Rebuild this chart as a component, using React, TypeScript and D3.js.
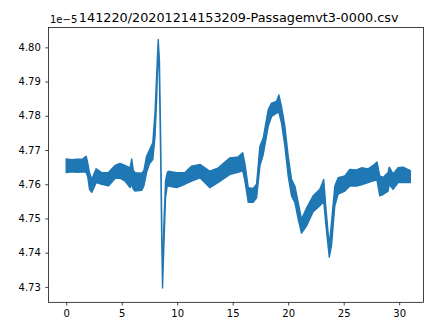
import { useEffect, useRef } from "react";
import * as d3 from "d3";

// signal envelope (values in units of 1e-5)
const times = [
  0.0, 0.5, 1.0, 1.5, 1.8, 1.95, 2.1, 2.3, 2.5, 2.7, 3.2, 3.8, 4.4, 4.85, 5.3, 5.75, 5.9, 6.05, 6.2, 6.8,
  7.0, 7.24, 7.5, 7.8, 8.0, 8.15, 8.29, 8.4, 8.5, 8.6, 8.68, 8.8, 8.95, 9.1, 9.2, 9.95, 10.7, 11.3, 12.05, 12.95,
  13.7, 14.75, 15.5, 15.9, 16.1, 16.4, 16.85, 17.15, 17.45, 17.75, 18.2, 18.5, 18.95, 19.16, 19.4, 19.7, 20.0, 20.3, 20.6, 20.9,
  21.2, 21.65, 22.25, 22.85, 23.2, 23.4, 23.7, 23.9, 24.2, 24.5, 25.1, 25.55, 26.15, 26.6, 27.2, 27.65, 28.0, 28.25, 28.55, 29.0,
  29.1, 29.45, 29.9, 30.35, 31.0,
];
const lower = [
  4.7634, 4.7636, 4.7635, 4.7636, 4.7635, 4.762, 4.7585, 4.7576, 4.759, 4.7605, 4.76, 4.7595, 4.7617, 4.7618, 4.7609, 4.759, 4.76, 4.7585, 4.758, 4.7582,
  4.7595, 4.7634, 4.766, 4.7672, 4.7739, 4.785, 4.8015, 4.79, 4.77, 4.745, 4.7297, 4.742, 4.756, 4.7595, 4.7595, 4.759, 4.76, 4.7609, 4.7619, 4.759,
  4.7605, 4.7629, 4.7635, 4.764, 4.761, 4.7547, 4.7547, 4.756, 4.7653, 4.7687, 4.7769, 4.7798, 4.7808, 4.781, 4.7779, 4.7711, 4.7624, 4.7566, 4.7547, 4.7498,
  4.7457, 4.7478, 4.752, 4.7537, 4.755, 4.748, 4.7387, 4.742, 4.7537, 4.7571, 4.758, 4.7595, 4.7595, 4.7598, 4.7605, 4.761, 4.7612, 4.7566, 4.757, 4.758,
  4.76, 4.7585, 4.7605, 4.7605, 4.7605,
];
const upper = [
  4.7674, 4.7672, 4.7673, 4.7674, 4.7682, 4.766, 4.7634, 4.7614, 4.763, 4.7645, 4.7634, 4.7634, 4.7655, 4.7661, 4.7655, 4.7648, 4.7674, 4.764, 4.7634, 4.7632,
  4.764, 4.7682, 4.77, 4.7721, 4.7809, 4.792, 4.8023, 4.796, 4.776, 4.751, 4.731, 4.748, 4.761, 4.7634, 4.7638, 4.7634, 4.7634, 4.7653, 4.7658, 4.7638,
  4.7648, 4.7677, 4.768, 4.7692, 4.766, 4.759, 4.7588, 4.76, 4.7711, 4.7735, 4.7818, 4.7837, 4.7842, 4.7861, 4.7827, 4.7769, 4.7682, 4.7614, 4.7595, 4.7547,
  4.7498, 4.753, 4.7566, 4.7585, 4.7614, 4.753, 4.742, 4.7488, 4.7595, 4.7619, 4.7624, 4.7643, 4.7642, 4.7648, 4.7645, 4.7655, 4.7665, 4.7624, 4.762, 4.7634,
  4.765, 4.763, 4.7648, 4.765, 4.764,
];

const xTicks = [0, 5, 10, 15, 20, 25, 30];
const yTicks = [4.73, 4.74, 4.75, 4.76, 4.77, 4.78, 4.79, 4.8];
const title = "141220/20201214153209-Passagemvt3-0000.csv";

export default function App() {
  const svgRef = useRef<SVGSVGElement>(null);

  useEffect(() => {
    const W = 424;
    const H = 320;
    const m = { top: 27.5, right: 0.5, bottom: 17.7, left: 48.5 };
    const w = W - m.left - m.right;
    const h = H - m.top - m.bottom;

    const root = d3.select(svgRef.current);
    root.selectAll("*").remove();
    root.attr("width", W).attr("height", H);

    const svg = root.append("g").attr("transform", `translate(${m.left},${m.top})`);

    const x = d3.scaleLinear().domain([-1.595, 32.19]).range([0, w]);
    const y = d3.scaleLinear().domain([4.7255, 4.8058]).range([h, 0]);

    const pts = times.map((t, i) => ({ t, lo: lower[i], hi: upper[i] }));

    const area = d3
      .area<{ t: number; lo: number; hi: number }>()
      .x((d) => x(d.t))
      .y0((d) => y(d.lo))
      .y1((d) => y(d.hi));

    svg
      .append("path")
      .datum(pts)
      .attr("d", area)
      .attr("fill", "#1f77b4")
      .attr("stroke", "#1f77b4")
      .attr("stroke-width", 1.4)
      .attr("stroke-linejoin", "round");

    const font = "DejaVu Sans, sans-serif";

    // X axis
    svg
      .append("g")
      .attr("transform", `translate(0,${h})`)
      .call(d3.axisBottom(x).tickValues(xTicks).tickSize(3.2).tickPadding(4.7).tickFormat(d3.format("d")))
      .call((g) => {
        g.select(".domain").remove();
        g.selectAll("line").attr("stroke", "#000").attr("stroke-width", 0.74);
        g.selectAll("text").attr("fill", "#000").attr("font-size", "10px").attr("font-family", font);
      });

    // Y axis
    svg
      .append("g")
      .call(d3.axisLeft(y).tickValues(yTicks).tickSize(3.2).tickPadding(4.5).tickFormat(d3.format(".2f")))
      .call((g) => {
        g.select(".domain").remove();
        g.selectAll("line").attr("stroke", "#000").attr("stroke-width", 0.74);
        g.selectAll("text").attr("fill", "#000").attr("font-size", "10px").attr("font-family", font);
      });

    // frame
    svg
      .append("rect")
      .attr("width", w)
      .attr("height", h)
      .attr("fill", "none")
      .attr("stroke", "#000")
      .attr("stroke-width", 0.74);

    // offset text
    svg
      .append("text")
      .attr("x", 1.5)
      .attr("y", -5)
      .attr("font-size", "10px")
      .attr("font-family", font)
      .attr("fill", "#000")
      .text("1e\u22125");

    // title
    svg
      .append("text")
      .attr("x", w / 2 + 2.7)
      .attr("y", -5.8)
      .attr("text-anchor", "middle")
      .attr("font-size", "12.8px")
      .attr("font-family", font)
      .attr("fill", "#000")
      .text(title);
  }, []);

  return (
    <svg
      ref={svgRef}
      style={{ position: "absolute", left: 0, top: 0, display: "block", background: "#fff" }}
    />
  );
}
